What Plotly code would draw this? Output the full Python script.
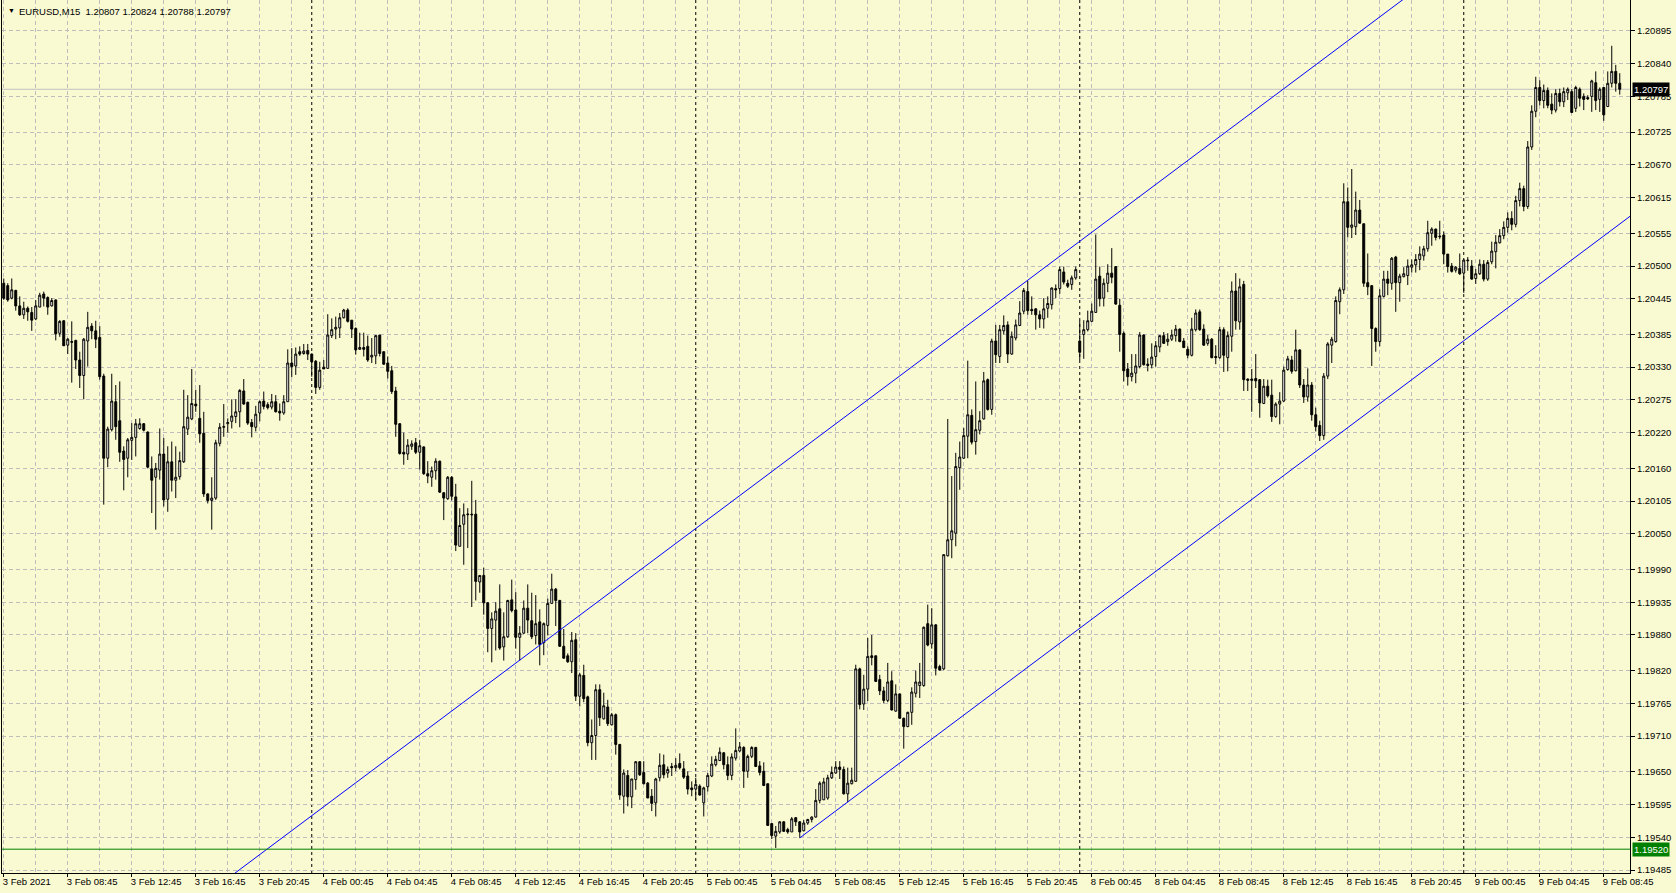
import plotly.graph_objects as go

# ---------------- DATA (prices in points, 1 point = 0.00001) ----------------
symbol = "EURUSD,M15"
point = 0.00001

opens_pts = [
    120471,120467,120446,120459,120433,120418,120429,120422,120411,120431,
    120453,120447,120433,120443,120387,120408,120367,120373,120375,120342,
    120316,120374,120399,120391,120380,120315,120177,120225,120272,120240,
    120189,120177,120207,120212,120227,120235,120221,120159,120145,120157,
    120184,120108,120171,120140,120146,120171,120226,120243,120268,120244,
    120219,120117,120106,120110,120202,120229,120235,120239,120247,120255,
    120290,120271,120237,120229,120253,120273,120267,120263,120272,120256,
    120253,120272,120337,120332,120356,120353,120358,120352,120340,120296,
    120330,120328,120383,120394,120396,120413,120426,120409,120395,120360,
    120363,120365,120347,120349,120384,120356,120337,120324,120290,120235,
    120187,120184,120197,120203,120187,120196,120151,120145,120156,120172,
    120119,120109,120145,120112,120029,120066,120082,120083,120083,119969,
    119980,119934,119891,119905,119924,119860,119877,119939,119922,119876,
    119883,119925,119904,119879,119902,119867,119896,119933,119957,119938,
    119861,119845,119835,119872,119777,119812,119776,119699,119711,119788,
    119739,119759,119729,119746,119696,119609,119644,119608,119637,119667,
    119649,119631,119609,119598,119640,119662,119648,119659,119657,119664,
    119655,119643,119623,119621,119626,119598,119625,119643,119662,119669,
    119682,119662,119644,119673,119685,119691,119651,119676,119691,119660,
    119651,119630,119563,119542,119549,119566,119553,119549,119573,119566,
    119551,119564,119570,119574,119602,119603,119606,119640,119648,119658,
    119654,119613,119630,119634,119823,119764,119789,119845,119845,119805,
    119786,119770,119803,119752,119781,119740,119726,119750,119782,119795,
    119795,119899,119865,119897,119827,119823,120013,120040,120051,120161,
    120177,120214,120249,120205,120224,120243,120309,120259,120374,120348,
    120391,120401,120352,120379,120400,120424,120457,120427,120428,120418,
    120411,120429,120435,120462,120462,120490,120471,120469,120480,120374,
    120385,120393,120407,120422,120483,120446,120471,120488,120499,120434,
    120387,120327,120314,120320,120331,120384,120335,120334,120348,120364,
    120383,120373,120377,120383,120394,120374,120360,120350,120393,120423,
    120394,120370,120377,120348,120346,120393,120346,120382,120458,120406,
    120469,120310,120310,120311,120309,120269,120298,120283,120247,120268,
    120273,120326,120342,120324,120359,120300,120280,120300,120250,120232,
    120215,120315,120367,120373,120440,120460,120608,120565,120566,120594,
    120571,120472,120467,120395,120373,120449,120478,120471,120515,120472,
    120482,120484,120498,120502,120511,120517,120529,120555,120562,120549,
    120552,120520,120500,120493,120496,120488,120510,120500,120479,120487,
    120503,120478,120507,120524,120539,120551,120565,120580,120570,120610,
    120630,120600,120700,120760,120800,120778,120795,120772,120762,120790,
    120776,120791,120793,120765,120797,120785,120783,120785,120808,120780,
    120800,120768,120807,120827,120807,
]

highs_pts = [
    120479,120471,120479,120460,120449,120440,120432,120431,120443,120455,
    120457,120449,120446,120444,120409,120409,120379,120407,120376,120356,
    120379,120423,120404,120408,120399,120319,120230,120319,120300,120306,
    120197,120211,120236,120243,120244,120236,120222,120180,120169,120227,
    120211,120197,120205,120197,120188,120292,120283,120327,120292,120300,
    120255,120118,120145,120208,120236,120268,120244,120276,120276,120293,
    120310,120272,120243,120265,120274,120289,120271,120285,120283,120269,
    120283,120360,120362,120363,120365,120369,120369,120353,120342,120339,
    120342,120419,120412,120415,120421,120428,120429,120409,120397,120388,
    120388,120383,120379,120384,120384,120356,120348,120332,120297,120236,
    120220,120209,120207,120211,120208,120197,120172,120163,120177,120173,
    120120,120147,120147,120134,120093,120101,120093,120139,120107,119980,
    119993,119935,119918,119935,119965,119918,119939,119973,119952,119895,
    119938,119965,119951,119947,119923,119901,119941,119983,119959,119939,
    119890,119849,119885,119883,119816,119830,119778,119738,119797,119797,
    119783,119771,119749,119748,119697,119654,119653,119638,119668,119668,
    119668,119633,119621,119640,119681,119679,119659,119665,119673,119681,
    119668,119651,119634,119640,119629,119625,119648,119676,119677,119691,
    119683,119676,119681,119723,119700,119693,119679,119693,119692,119668,
    119666,119630,119564,119559,119567,119567,119556,119574,119574,119567,
    119569,119571,119575,119621,119634,119640,119645,119659,119668,119668,
    119659,119657,119657,119830,119825,119813,119875,119880,119845,119813,
    119793,119833,119819,119797,119781,119741,119751,119792,119820,119833,
    119894,119931,119925,119898,119830,120015,120243,120147,120186,120205,
    120228,120341,120259,120306,120256,120322,120311,120378,120401,120401,
    120417,120407,120390,120410,120441,120463,120475,120449,120429,120425,
    120446,120449,120464,120469,120499,120499,120477,120484,120499,120408,
    120409,120425,120437,120553,120499,120479,120503,120530,120499,120445,
    120390,120337,120352,120352,120389,120385,120345,120370,120374,120383,
    120389,120387,120393,120401,120395,120379,120365,120413,120427,120427,
    120402,120384,120379,120367,120398,120397,120390,120474,120488,120479,
    120475,120311,120327,120352,120310,120310,120309,120309,120271,120288,
    120331,120349,120349,120393,120360,120310,120328,120305,120262,120240,
    120320,120372,120381,120449,120464,120639,120632,120663,120625,120611,
    120571,120521,120468,120397,120461,120492,120492,120515,120517,120487,
    120498,120511,120511,120520,120533,120534,120576,120565,120563,120576,
    120558,120520,120505,120500,120521,120511,120515,120510,120495,120511,
    120510,120510,120541,120552,120562,120575,120590,120592,120618,120640,
    120635,120710,120770,120818,120812,120805,120800,120790,120797,120798,
    120800,120800,120797,120803,120800,120790,120787,120813,120827,120800,
    120800,120827,120870,120838,120824,
]

lows_pts = [
    120443,120440,120444,120425,120416,120411,120408,120391,120409,120431,
    120432,120418,120432,120375,120381,120366,120352,120304,120327,120295,
    120276,120331,120377,120362,120309,120099,120162,120222,120208,120171,
    120123,120145,120174,120180,120225,120222,120160,120085,120057,120141,
    120096,120087,120121,120110,120141,120169,120216,120241,120255,120203,
    120112,120101,120057,120107,120197,120213,120220,120227,120236,120229,
    120267,120233,120212,120222,120239,120259,120259,120259,120254,120240,
    120250,120272,120313,120317,120349,120351,120342,120314,120285,120292,
    120327,120328,120379,120377,120379,120412,120405,120379,120351,120359,
    120348,120339,120337,120335,120348,120334,120311,120285,120213,120183,
    120166,120174,120191,120184,120158,120149,120135,120129,120141,120119,
    120073,120107,120106,120021,120029,119998,120026,119927,119938,119951,
    119914,119851,119834,119854,119855,119837,119875,119918,119857,119837,
    119882,119883,119873,119864,119829,119846,119879,119933,119895,119860,
    119840,119833,119816,119769,119760,119767,119693,119670,119670,119727,
    119738,119727,119728,119679,119603,119580,119592,119589,119620,119643,
    119629,119606,119584,119575,119634,119639,119640,119643,119651,119654,
    119638,119612,119609,119603,119610,119575,119617,119641,119659,119668,
    119654,119636,119636,119669,119683,119623,119640,119673,119658,119644,
    119626,119559,119537,119522,119546,119549,119546,119549,119559,119539,
    119550,119561,119565,119573,119597,119603,119603,119638,119647,119638,
    119612,119599,119629,119634,119755,119754,119769,119829,119801,119779,
    119765,119767,119753,119751,119739,119689,119725,119729,119775,119774,
    119793,119861,119857,119812,119820,119821,120012,120009,120029,120124,
    120176,120177,120200,120183,120217,120242,120257,120250,120337,120337,
    120385,120337,120351,120375,120399,120419,120418,120418,120393,120396,
    120395,120413,120427,120446,120453,120469,120463,120460,120477,120342,
    120344,120390,120406,120421,120432,120432,120456,120471,120435,120356,
    120306,120299,120306,120303,120328,120333,120323,120328,120331,120355,
    120369,120366,120374,120373,120372,120362,120345,120348,120390,120391,
    120366,120366,120345,120335,120344,120322,120323,120356,120393,120393,
    120290,120290,120255,120295,120245,120268,120279,120238,120245,120234,
    120272,120324,120319,120323,120295,120270,120272,120240,120222,120206,
    120208,120310,120337,120371,120419,120453,120548,120547,120552,120571,
    120465,120451,120332,120356,120365,120447,120451,120460,120423,120440,
    120481,120468,120489,120489,120493,120509,120524,120534,120543,120545,
    120503,120489,120489,120489,120485,120455,120492,120477,120470,120485,
    120474,120475,120503,120496,120538,120545,120556,120560,120565,120600,
    120592,120596,120695,120750,120770,120765,120765,120755,120758,120768,
    120767,120779,120757,120759,120768,120762,120779,120759,120762,120759,
    120744,120767,120800,120793,120788,
]

closes_pts = [
    120446,120443,120460,120433,120418,120429,120423,120409,120433,120451,
    120446,120431,120442,120386,120407,120366,120377,120372,120342,120316,
    120377,120397,120391,120377,120314,120177,120226,120273,120230,120187,
    120175,120208,120212,120235,120235,120224,120162,120140,120160,120184,
    120107,120171,120140,120145,120173,120230,120246,120269,120265,120218,
    120117,120106,120110,120203,120229,120230,120237,120248,120255,120291,
    120268,120236,120230,120251,120272,120264,120262,120272,120255,120253,
    120272,120337,120331,120352,120352,120357,120352,120339,120296,120325,
    120327,120384,120393,120397,120413,120426,120407,120394,120359,120363,
    120360,120342,120350,120383,120353,120335,120323,120289,120234,120185,
    120184,120199,120201,120187,120198,120151,120147,120156,120172,120120,
    120110,120145,120113,120031,120064,120082,120083,120082,119970,119980,
    119934,119891,119907,119920,119858,119877,119938,119921,119876,119883,
    119925,119905,119877,119899,119864,119899,119933,119957,119938,119861,
    119841,119835,119871,119777,119813,119773,119699,119711,119788,119741,
    119761,119731,119746,119696,119611,119648,119608,119638,119667,119645,
    119630,119606,119597,119638,119661,119645,119654,119657,119661,119657,
    119641,119621,119620,119629,119611,119623,119644,119663,119671,119683,
    119662,119644,119675,119686,119692,119651,119676,119691,119659,119649,
    119627,119560,119543,119550,119566,119550,119549,119571,119566,119549,
    119564,119570,119574,119602,119631,119633,119640,119649,119658,119654,
    119613,119631,119636,119823,119763,119789,119844,119842,119802,119786,
    119770,119801,119754,119781,119740,119726,119750,119784,119801,119801,
    119893,119863,119897,119824,119821,120015,120040,120055,120163,120179,
    120215,120250,120204,120225,120240,120307,120259,120374,120351,120393,
    120400,120352,120382,120401,120421,120459,120425,120425,120418,120411,
    120428,120437,120463,120460,120494,120473,120466,120480,120494,120355,
    120393,120408,120424,120478,120445,120471,120488,120481,120436,120385,
    120324,120314,120320,120332,120384,120334,120333,120347,120366,120383,
    120370,120377,120384,120394,120373,120363,120350,120394,120421,120393,
    120367,120377,120346,120346,120393,120350,120383,120458,120408,120465,
    120309,120308,120308,120307,120270,120298,120282,120247,120268,120273,
    120325,120344,120323,120359,120300,120280,120300,120250,120230,120215,
    120315,120369,120377,120442,120460,120608,120565,120569,120594,120572,
    120471,120465,120395,120373,120450,120478,120471,120513,120472,120483,
    120487,120500,120502,120511,120520,120529,120556,120562,120548,120550,
    120520,120499,120491,120498,120487,120510,120509,120478,120487,120503,
    120478,120506,120525,120540,120551,120565,120580,120570,120610,120630,
    120600,120700,120760,120800,120778,120795,120770,120762,120790,120776,
    120793,120797,120758,120800,120782,120780,120781,120811,120778,120797,
    120754,120807,120827,120807,120797,
]

# time axis (bar index -> label), first bar = 3 Feb 2021 04:45, M15 bars
time_tick_idx = [0, 16, 32, 48, 64, 80, 96, 112, 128, 144, 160, 176, 192,
                 208, 224, 240, 256, 272, 288, 304, 320, 336, 352, 368, 384, 400]
time_tick_text = ["3 Feb 2021", "3 Feb 08:45", "3 Feb 12:45", "3 Feb 16:45",
                  "3 Feb 20:45", "4 Feb 00:45", "4 Feb 04:45", "4 Feb 08:45",
                  "4 Feb 12:45", "4 Feb 16:45", "4 Feb 20:45", "5 Feb 00:45",
                  "5 Feb 04:45", "5 Feb 08:45", "5 Feb 12:45", "5 Feb 16:45",
                  "5 Feb 20:45", "8 Feb 00:45", "8 Feb 04:45", "8 Feb 08:45",
                  "8 Feb 12:45", "8 Feb 16:45", "8 Feb 20:45", "9 Feb 00:45",
                  "9 Feb 04:45", "9 Feb 08:45"]
day_start_idx = [77, 173, 269, 365]

price_tick_text = ["1.20895", "1.20840", "1.20785", "1.20725", "1.20670",
                   "1.20615", "1.20555", "1.20500", "1.20445", "1.20385",
                   "1.20330", "1.20275", "1.20220", "1.20160", "1.20105",
                   "1.20050", "1.19990", "1.19935", "1.19880", "1.19820",
                   "1.19765", "1.19710", "1.19650", "1.19595", "1.19540",
                   "1.19485"]

# equidistant channel anchors (bar index, price)
upper_anchor_idx = [103, 213]
upper_anchor_price = [1.19707, 1.20260]
lower_anchor_idx = [199, 354]
lower_anchor_price = [1.19539, 1.20319]

level_price = 1.19520

# ---------------- BUILD ----------------
o = [round(v * point, 5) for v in opens_pts]
h = [round(v * point, 5) for v in highs_pts]
l = [round(v * point, 5) for v in lows_pts]
c = [round(v * point, 5) for v in closes_pts]
bars = list(range(len(o)))

X_MIN, X_MAX = -0.4375, 406.5625
Y_MIN, Y_MAX = 1.19480, 1.20947

FONT = "Liberation Sans, Arial, sans-serif"
FS = 9.5
BG = "#FAFAD2"
GRID = "#BDBDBD"


def ray(idx, px, x_from, x_to):
    slope = (px[1] - px[0]) / (idx[1] - idx[0])
    return ([x_from, x_to],
            [px[0] + slope * (x_from - idx[0]), px[0] + slope * (x_to - idx[0])])


fig = go.Figure()

fig.add_trace(go.Candlestick(
    x=bars, open=o, high=h, low=l, close=c,
    increasing=dict(line=dict(color="black", width=1), fillcolor="white"),
    decreasing=dict(line=dict(color="black", width=1), fillcolor="black"),
    whiskerwidth=0, showlegend=False, hoverinfo="skip",
))

ux, uy = ray(upper_anchor_idx, upper_anchor_price, -2, X_MAX + 2)
lx, ly = ray(lower_anchor_idx, lower_anchor_price, lower_anchor_idx[0], X_MAX + 2)
for xs, ys in ((ux, uy), (lx, ly)):
    fig.add_trace(go.Scatter(x=xs, y=ys, mode="lines",
                             line=dict(color="#0000FF", width=1),
                             showlegend=False, hoverinfo="skip"))

shapes = []
for d in day_start_idx:
    shapes.append(dict(type="line", xref="x", yref="paper", x0=d, x1=d, y0=0, y1=1,
                       line=dict(color="black", width=1, dash="3px,3px"), layer="below"))
shapes.append(dict(type="line", xref="paper", yref="y", x0=0, x1=1,
                   y0=c[-1], y1=c[-1], line=dict(color="#C0C0C0", width=1), layer="below"))
shapes.append(dict(type="line", xref="paper", yref="y", x0=0, x1=1,
                   y0=level_price, y1=level_price,
                   line=dict(color="#008000", width=1), layer="above"))

title_text = "%s\u00a0\u00a0%.5f %.5f %.5f %.5f" % (symbol, o[-1], h[-1], l[-1], c[-1])
annotations = [
    dict(text="\u25BC", xref="paper", yref="paper", x=0, y=1, xanchor="left", yanchor="top",
         xshift=4, yshift=-5, showarrow=False, font=dict(family=FONT, size=7, color="black")),
    dict(text=title_text, xref="paper", yref="paper", x=0, y=1, xanchor="left", yanchor="top",
         xshift=15, yshift=-4, showarrow=False, font=dict(family=FONT, size=FS, color="black")),
    dict(text="%.5f" % c[-1], xref="paper", yref="y", x=1, y=c[-1], xanchor="left",
         yanchor="middle", xshift=2, showarrow=False, bgcolor="black", borderpad=1,
         font=dict(family=FONT, size=FS, color="white")),
    dict(text="%.5f" % level_price, xref="paper", yref="y", x=1, y=level_price,
         xanchor="left", yanchor="middle", xshift=2, showarrow=False, bgcolor="#008000",
         borderpad=1, font=dict(family=FONT, size=FS, color="white")),
]

fig.update_layout(
    width=1676, height=893,
    margin=dict(l=2, r=46, t=0, b=20, pad=0),
    paper_bgcolor=BG, plot_bgcolor=BG,
    showlegend=False,
    shapes=shapes, annotations=annotations,
    font=dict(family=FONT, size=FS, color="black"),
    xaxis=dict(
        range=[X_MIN, X_MAX], autorange=False, rangeslider=dict(visible=False),
        tickmode="array", tickvals=time_tick_idx, ticktext=time_tick_text,
        ticks="outside", ticklen=3, tickcolor="black", tickwidth=1,
        ticklabelposition="outside right", ticklabelshift=-2,
        showgrid=True, gridcolor=GRID, griddash="4px,3px", gridwidth=1,
        minor=dict(tickmode="linear", tick0=0, dtick=8, showgrid=True,
                   gridcolor=GRID, griddash="4px,3px", gridwidth=1, ticks=""),
        showline=True, linecolor="black", linewidth=1, mirror=False,
        zeroline=False, automargin=False,
        tickfont=dict(family=FONT, size=FS, color="black"),
        fixedrange=True,
    ),
    yaxis=dict(
        range=[Y_MIN, Y_MAX], autorange=False, side="right",
        tickmode="array", tickvals=[float(t) for t in price_tick_text],
        ticktext=price_tick_text,
        ticks="outside", ticklen=4, tickcolor="black", tickwidth=1,
        showgrid=True, gridcolor=GRID, griddash="4px,3px", gridwidth=1,
        showline=True, linecolor="black", linewidth=1, mirror=True,
        zeroline=False, automargin=False,
        tickfont=dict(family=FONT, size=FS, color="black"),
        fixedrange=True,
    ),
)

fig.write_html("out.html", config={"displayModeBar": False},
               post_script="document.body.style.margin='0';document.body.style.overflow='hidden';")
